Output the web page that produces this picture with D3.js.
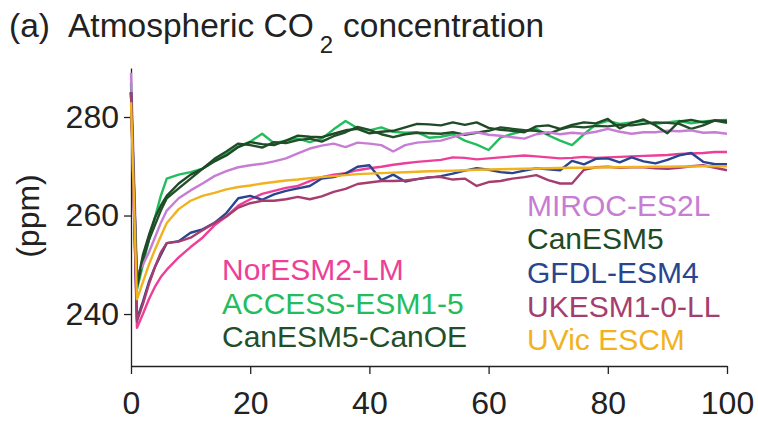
<!DOCTYPE html>
<html>
<head>
<meta charset="utf-8">
<script src="https://cdn.jsdelivr.net/npm/d3@7"></script>
<style>
  html, body { margin: 0; padding: 0; background: #fff; }
  svg { display: block; }
  text { font-family: "Liberation Sans", Arial, Helvetica, sans-serif; }
</style>
</head>
<body>
<svg id="chart" width="758" height="422"></svg>
<script>
// ---------------- data ----------------
const years = [0,1,2,3,4,5,6,8,10,12,14,16,18,20,22,24,26,28,30,32,34,36,38,40,42,44,46,48,50,52,54,56,58,60,62,64,66,68,70,72,74,76,78,80,82,84,86,88,90,92,94,96,98,100];

const noresm = [285,237.2,240,243,245.5,247.5,249,
  251.5,253.6,255.5,258,259.8,262,263.3,
  264.4,265,265.6,266,267,267.8,268.3,268.6,269.2,269.6,
  269.9,270.3,270.6,270.9,271.1,271.3,271.8,271.7,271.4,271.6,
  271.8,272,272.2,272,271.8,271.6,271.7,271.9,271.7,271.8,
  271.9,272,272.1,272.2,272.3,272.5,272.6,272.7,272.9,272.9];

const access = [287,245,250,255,259.5,264,267.5,
  268.3,268.8,269.5,271,272.5,274,275,
  276.6,274.7,275.2,275.6,274.9,275.6,277.5,279.2,277.7,277.3,
  277.9,277,276.8,276.9,275.8,276,276.5,275.2,274.4,273.3,
  275.8,276.6,277.2,277.6,276.3,275.2,274.3,276.5,278.5,279.2,
  278.6,278.9,279.2,278.6,278.9,279.2,278.7,279.1,279.3,279.4];

const canoe = [285,245.5,251,255,258,261,263.5,
  265.5,267.5,269.5,271.5,273,274.6,274.3,
  273.8,274.9,274.7,275.3,275.6,275,276.1,276.9,278,277.4,
  276.5,275.9,276.5,276.8,276.7,276.6,276.9,276.4,276.8,277.2,
  277.9,277.6,277.3,277.2,276.6,277.5,278.1,277.9,278.2,278.1,
  278.4,278.3,278.6,278.9,278.8,278.6,277.6,278.3,279.3,278.8];

const miroc = [289,248,250,252.5,255.5,258.5,261,
  263.5,265.1,266.5,268,269,269.8,270.2,
  270.5,271,271.6,272.6,273.6,274.2,274.6,273.9,274.8,274.6,
  274.3,273,274.3,274.8,275,275.2,275.9,276.6,276.9,276.4,
  276.2,275.9,275.6,276.5,276.9,276.5,276.8,276.6,277,277.6,
  277,276.6,276.9,276.9,277.2,277.1,277.3,276.8,276.9,276.6];

const canesm5 = [285,246,252,256,259.5,262,264,
  266.5,268.3,269.5,271,272.2,273.9,274.9,
  274.5,274.3,275.2,276.2,276,275.9,276.6,277.3,277.6,276.7,
  277,277.2,277.9,278.6,278.5,278.3,278.9,278.4,278.9,277.8,
  277.4,277.2,276.9,278.1,278.3,277.6,278.4,278.9,278.7,279.6,
  277.7,278.8,279.5,278.3,276.7,279.1,279.4,278.9,279.3,279.2];

const gfdl = [285,239,242.5,246.5,249.5,252,254.4,
  254.8,256.5,257.2,258.5,260.5,263.5,264,
  263.2,264.3,265,265.5,266,267.5,267.8,268.5,269.9,270.2,
  267.2,268.3,266.9,267.4,267.7,268,268.5,269.1,269.6,269.3,
  268.8,268.6,269.1,269.6,269.4,269.2,271.1,270.4,271.5,271.6,
  270.8,271.8,271,270.6,271.3,272.2,272.7,270.9,270.4,270.4];

const ukesm = [285,238.5,242,246,249.5,252.5,254.4,
  254.7,255.5,257,258.5,259.8,261.6,262.5,
  263,263,263.3,263.8,263.3,263.9,264.8,265.4,266.4,266.7,
  267,267,267.1,267.4,267.8,267.8,267.3,267.5,266,266.8,
  267,267.5,267.8,268.2,267.2,266.5,266.5,269.3,269.8,269.9,
  269.7,269.8,269.8,269.6,269.5,269.7,270,270.2,269.7,269.2];

const uvic = [283,243,246.5,250,253,255.8,258.5,
  261.3,263,264,264.6,265.3,265.8,266.1,
  266.5,266.8,267.1,267.3,267.6,267.8,268,268.2,268.4,268.5,
  268.6,268.7,268.8,268.9,269,269.05,269.1,269.2,269.3,269.35,
  269.4,269.45,269.5,269.55,269.6,269.65,269.7,269.7,269.75,269.8,
  269.8,269.85,269.85,269.9,269.9,269.95,269.95,270,270,270];

const seriesNames  = ["NorESM2-LM","ACCESS-ESM1-5","CanESM5-CanOE","MIROC-ES2L","CanESM5","GFDL-ESM4","UKESM1-0-LL","UVic ESCM"];
const seriesValues = [noresm, access, canoe, miroc, canesm5, gfdl, ukesm, uvic];
const seriesColors = ["#ee3f98","#22bd5c","#224f2a","#c77dd3","#1f4a26","#2a4590","#a63d6f","#f1b21e"];

const xTicks = [0,20,40,60,80,100];
const yTicks = [240,260,280];

// ---------------- drawing ----------------
(function draw() {
  const svg = d3.select("#chart");
  const pL = 131, pR = 727, pT = 68, pB = 366;
  const fs = 32;
  const lfs = 30;

  const x = d3.scaleLinear().domain([0,100]).range([pL, pR]);
  const y = d3.scaleLinear().domain([229.45, 289.95]).range([pB, pT]);

  const gx = svg.append("g").attr("transform", `translate(0,${pB})`)
    .call(d3.axisBottom(x).tickValues(xTicks).tickSize(8).tickSizeOuter(0).tickPadding(17));
  const gy = svg.append("g").attr("transform", `translate(${pL},0)`)
    .call(d3.axisLeft(y).tickValues(yTicks).tickSize(7).tickSizeOuter(0).tickPadding(5));
  [gx, gy].forEach(g => {
    g.select(".domain").attr("stroke", "#222").attr("stroke-width", 1.3);
    g.selectAll(".tick line").attr("stroke", "#222").attr("stroke-width", 1.3);
    g.selectAll(".tick text").attr("fill", "#222").style("font-size", fs + "px")
      .style("font-family", '"Liberation Sans", Arial, sans-serif');
  });

  const line = d3.line().x((d,i) => x(years[i])).y(d => y(d));
  svg.append("g").selectAll("path").data(seriesValues).join("path")
    .attr("d", d => line(d))
    .attr("fill", "none")
    .attr("stroke", (d,i) => seriesColors[i])
    .attr("stroke-width", 2.4)
    .attr("stroke-linejoin", "round");

  svg.append("text")
    .attr("transform", `translate(39,216) rotate(-90)`)
    .attr("text-anchor", "middle")
    .attr("fill", "#222")
    .style("font-size", fs + "px")
    .text("(ppm)");

  const title = svg.append("text").attr("x", 9).attr("y", 37).attr("fill", "#222").style("font-size", "33.5px");
  title.append("tspan").text("(a)");
  title.append("tspan").attr("x", 68).text("Atmospheric CO");
  title.append("tspan").attr("dy", 16).attr("dx", 6).style("font-size", "24px").text("2");
  title.append("tspan").attr("dy", -16).attr("dx", 10).text("concentration");

  const step = 33.7;
  const legendPos = [
    [222, 280], [222, 280 + step], [222, 280 + 2 * step],
    [527, 283 - 2 * step], [527, 283 - step], [527, 283], [527, 283 + step], [527, 283 + 2 * step]
  ];
  svg.append("g").selectAll("text").data(seriesNames).join("text")
    .attr("x", (d,i) => legendPos[i][0])
    .attr("y", (d,i) => legendPos[i][1])
    .attr("fill", (d,i) => seriesColors[i])
    .style("font-size", lfs + "px")
    .text(d => d);
})();
</script>
</body>
</html>
